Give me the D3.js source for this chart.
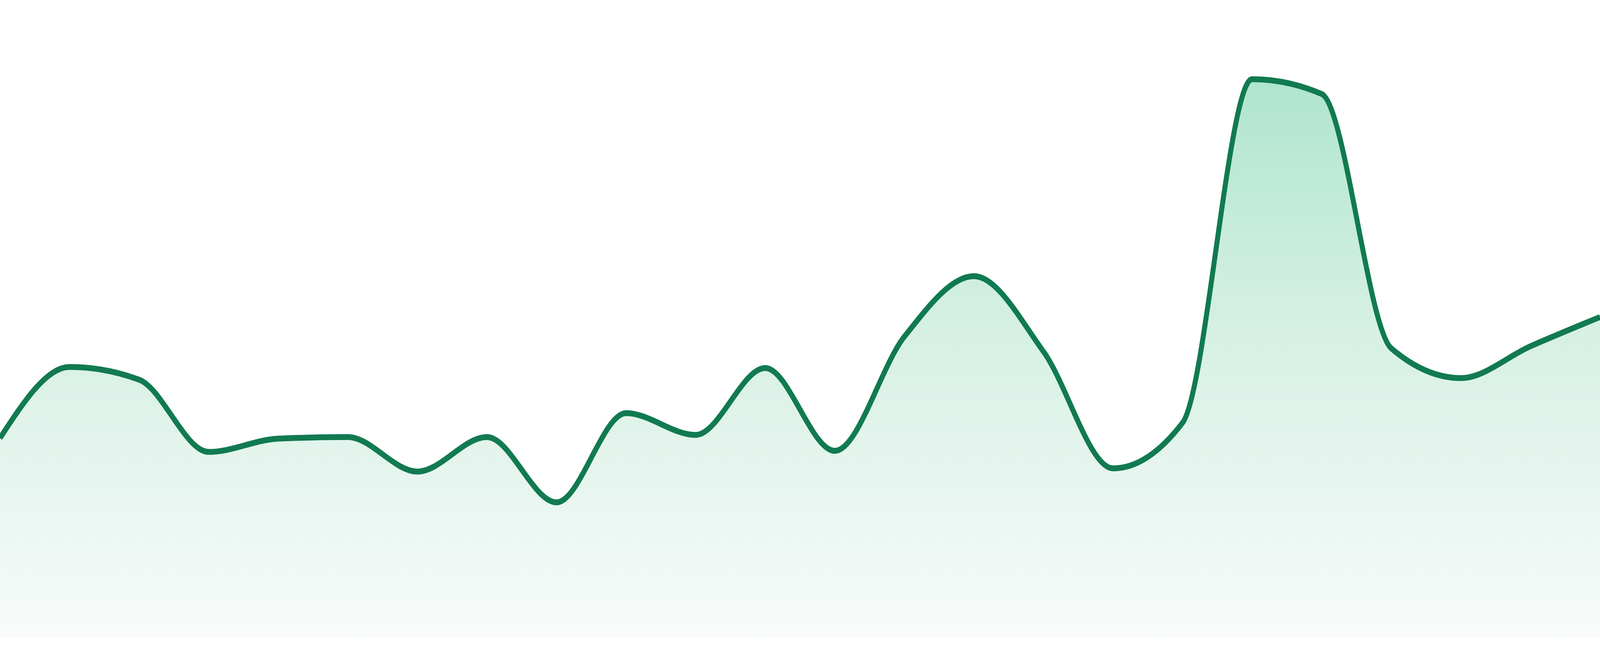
<!DOCTYPE html>
<html>
<head>
<meta charset="utf-8">
<script src="https://cdn.jsdelivr.net/npm/d3@7"></script>
<style>
  html, body { margin: 0; padding: 0; background: #ffffff; overflow: hidden; width: 100%; height: 100%; }
  svg { display: block; width: 100vw; height: 100vh; }
</style>
</head>
<body>
<svg id="chart"></svg>
<script>
// ---- data ----
const categories = d3.range(24).map(i => "P" + (i + 1));
const values = [37.5, 50.9, 48.5, 34.9, 37.4, 37.7, 31.2, 37.7, 25.4, 42.2, 38.1, 50.7,
                35.1, 56.6, 68.0, 53.8, 31.8, 40.4, 105.1, 102.3, 54.4, 48.8, 54.8, 60.3];
const yDomain = [0, 120];

// ---- layout (reference pixel units, fitted to the viewport through the viewBox) ----
const W = 4800, H = 1680;
const plotBottom = 1632;

const svg = d3.select("#chart")
  .attr("viewBox", `0 0 ${W} ${H}`)
  .attr("preserveAspectRatio", "none");

const x = d3.scalePoint().domain(categories).range([0, W]);
const y = d3.scaleLinear().domain(yDomain).range([plotBottom, 0]);

const data = categories.map((c, i) => ({ c, v: values[i] }));

const defs = svg.append("defs");
const grad = defs.append("linearGradient")
  .attr("id", "fillGrad")
  .attr("gradientUnits", "userSpaceOnUse")
  .attr("x1", 0).attr("x2", 0)
  .attr("y1", y(d3.max(values))).attr("y2", plotBottom);
grad.append("stop").attr("offset", "0%").attr("stop-color", "#afe5ce");
grad.append("stop").attr("offset", "45%").attr("stop-color", "#d6f0e5");
grad.append("stop").attr("offset", "100%").attr("stop-color", "#f8fbfa");

const area = d3.area()
  .x(d => x(d.c))
  .y0(plotBottom)
  .y1(d => y(d.v))
  .curve(d3.curveMonotoneX);

const line = d3.line()
  .x(d => x(d.c))
  .y(d => y(d.v))
  .curve(d3.curveMonotoneX);

svg.append("path")
  .datum(data)
  .attr("d", area)
  .attr("fill", "url(#fillGrad)");

svg.append("path")
  .datum(data)
  .attr("d", line)
  .attr("fill", "none")
  .attr("stroke", "#117a50")
  .attr("stroke-width", 15)
  .attr("stroke-linejoin", "round");
</script>
</body>
</html>
